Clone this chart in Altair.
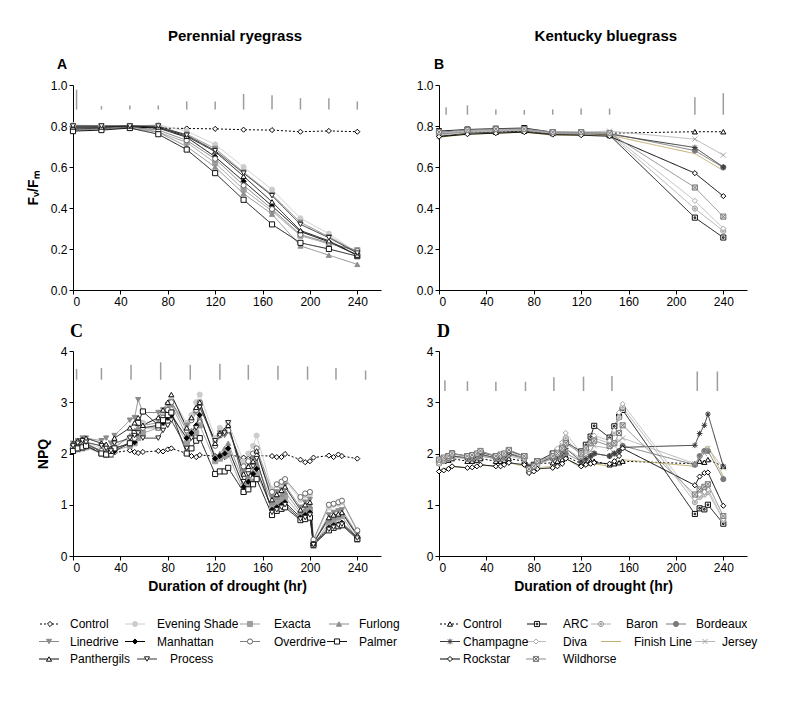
import altair as alt
import pandas as pd

FONT = "Liberation Sans"

# ---------------- time axes (hours of drought) ----------------
hours_rye_fvfm = [0, 24, 48, 72, 96, 120, 144, 168, 192, 216, 240]
hours_kb_fvfm = [0, 24, 48, 72, 96, 120, 144, 216, 240]
hours_rye_npq = [0, 4, 8, 11, 24, 28, 32, 35, 48, 52, 55, 59, 72, 76, 80, 83,
                 96, 100, 104, 107, 120, 124, 128, 131, 144, 148, 152, 155,
                 168, 172, 176, 179, 192, 196, 200, 203, 216, 220, 224, 227, 240]
hours_kb_npq = [0, 4, 8, 11, 24, 28, 32, 35, 48, 52, 55, 59, 72, 76, 80, 83,
                96, 100, 104, 107, 120, 124, 128, 131, 144, 148, 152, 155,
                216, 220, 224, 227, 240]

rye_names = ["Control", "Evening Shade", "Exacta", "Furlong", "Linedrive",
             "Manhattan", "Overdrive", "Palmer", "Panthergils", "Process"]
kb_names = ["Control", "ARC", "Baron", "Bordeaux", "Champagne", "Diva",
            "Finish Line", "Jersey", "Rockstar", "Wildhorse"]

# ---------------- A: perennial ryegrass Fv/Fm ----------------
A_control = [0.79, 0.79, 0.795, 0.79, 0.788, 0.786, 0.782, 0.78, 0.772, 0.776, 0.772]
A_evening_shade = [0.805, 0.80, 0.80, 0.805, 0.775, 0.71, 0.60, 0.49, 0.35, 0.275, 0.18]
A_exacta = [0.79, 0.795, 0.80, 0.77, 0.72, 0.62, 0.49, 0.385, 0.265, 0.225, 0.195]
A_furlong = [0.78, 0.785, 0.79, 0.77, 0.70, 0.60, 0.47, 0.37, 0.215, 0.17, 0.125]
A_linedrive = [0.80, 0.80, 0.80, 0.79, 0.76, 0.69, 0.575, 0.465, 0.33, 0.26, 0.185]
A_manhattan = [0.785, 0.79, 0.795, 0.79, 0.745, 0.65, 0.53, 0.41, 0.285, 0.235, 0.17]
A_overdrive = [0.79, 0.79, 0.795, 0.78, 0.73, 0.64, 0.51, 0.395, 0.27, 0.23, 0.19]
A_palmer = [0.775, 0.78, 0.79, 0.76, 0.685, 0.57, 0.44, 0.32, 0.23, 0.20, 0.165]
A_panthergils = [0.795, 0.795, 0.80, 0.795, 0.75, 0.675, 0.555, 0.43, 0.29, 0.24, 0.17]
A_process = [0.80, 0.80, 0.80, 0.80, 0.755, 0.68, 0.57, 0.46, 0.32, 0.255, 0.18]
A_lsd_t = [3, 24, 48, 72, 96, 120, 144, 168, 192, 216, 240]
A_lsd_len = [0.097, 0.017, 0.02, 0.02, 0.04, 0.04, 0.076, 0.07, 0.056, 0.055, 0.04]
A_lsd_base = 0.88

# ---------------- B: Kentucky bluegrass Fv/Fm ----------------
B_control = [0.765, 0.77, 0.77, 0.775, 0.765, 0.765, 0.765, 0.772, 0.772]
B_arc = [0.775, 0.783, 0.787, 0.79, 0.77, 0.768, 0.755, 0.353, 0.256]
B_baron = [0.76, 0.775, 0.78, 0.78, 0.765, 0.765, 0.76, 0.397, 0.288]
B_bordeaux = [0.76, 0.77, 0.775, 0.78, 0.765, 0.765, 0.765, 0.68, 0.598]
B_champagne = [0.75, 0.765, 0.77, 0.775, 0.76, 0.76, 0.76, 0.695, 0.60]
B_diva = [0.755, 0.77, 0.775, 0.78, 0.765, 0.765, 0.765, 0.435, 0.30]
B_finish_line = [0.745, 0.76, 0.765, 0.77, 0.755, 0.755, 0.755, 0.665, 0.583]
B_jersey = [0.765, 0.775, 0.78, 0.78, 0.77, 0.77, 0.775, 0.736, 0.658]
B_rockstar = [0.748, 0.76, 0.765, 0.77, 0.758, 0.755, 0.75, 0.57, 0.458]
B_wildhorse = [0.77, 0.78, 0.785, 0.785, 0.77, 0.77, 0.765, 0.50, 0.358]
B_lsd_t = [6, 24, 48, 72, 96, 120, 144, 216, 240]
B_lsd_len = [0.037, 0.046, 0.025, 0.023, 0.026, 0.03, 0.03, 0.085, 0.105]
B_lsd_base = 0.855

# ---------------- C: perennial ryegrass NPQ ----------------
C_control = [2.10, 2.08, 2.10, 2.12, 2.05, 2.02, 1.98, 2.02, 2.06, 2.03, 2.01, 2.03,
             2.05, 2.04, 2.08, 2.10, 2.00, 1.95, 1.93, 1.97, 1.95, 1.92, 1.93, 1.98,
             1.92, 1.90, 1.92, 1.96, 1.95, 1.93, 1.93, 1.99, 1.88, 1.83, 1.85, 1.92,
             1.96, 1.93, 1.98, 1.95, 1.90]
C_evening_shade = [2.15, 2.18, 2.20, 2.22, 2.10, 2.05, 2.00, 2.15, 2.30, 2.40, 2.55, 2.60,
                   2.65, 2.80, 2.95, 3.10, 2.60, 2.75, 3.00, 3.15, 2.30, 2.50, 2.45, 2.60,
                   1.85, 2.00, 2.15, 2.35, 1.30, 1.38, 1.42, 1.48, 1.10, 1.18, 1.20, 0.30,
                   0.95, 1.00, 1.02, 1.05, 0.48]
C_exacta = [2.05, 2.08, 2.10, 2.12, 2.00, 1.97, 1.98, 2.05, 2.15, 2.20, 2.30, 2.40,
            2.50, 2.60, 2.70, 2.80, 2.20, 2.35, 2.40, 2.55, 1.85, 1.90, 1.95, 2.00,
            1.25, 1.35, 1.45, 1.60, 0.95, 1.05, 1.10, 1.15, 0.80, 0.85, 0.90, 0.20,
            0.65, 0.70, 0.75, 0.78, 0.32]
C_furlong = [2.05, 2.10, 2.12, 2.15, 2.05, 2.00, 1.97, 2.10, 2.35, 2.45, 2.50, 2.55,
             2.60, 2.70, 2.80, 2.95, 2.35, 2.45, 2.55, 2.70, 1.95, 2.00, 2.10, 2.20,
             1.45, 1.55, 1.65, 1.80, 1.05, 1.15, 1.20, 1.25, 0.85, 0.92, 0.98, 0.28,
             0.70, 0.75, 0.80, 0.85, 0.38]
C_linedrive = [2.20, 2.25, 2.30, 2.30, 2.25, 2.30, 2.20, 2.35, 2.65, 2.70, 3.05, 2.80,
               2.80, 2.85, 2.95, 3.00, 2.55, 2.65, 2.80, 2.95, 2.20, 2.40, 2.35, 2.50,
               1.65, 1.80, 1.90, 2.05, 1.15, 1.25, 1.30, 1.38, 0.95, 1.05, 1.10, 0.25,
               0.80, 0.85, 0.88, 0.90, 0.42]
C_manhattan = [2.10, 2.15, 2.12, 2.18, 2.05, 2.00, 1.98, 2.05, 2.20, 2.22, 2.40, 2.50,
               2.55, 2.60, 2.70, 2.75, 2.30, 2.40, 2.55, 2.75, 1.90, 1.95, 2.00, 2.10,
               1.35, 1.45, 1.60, 1.70, 0.90, 0.95, 1.00, 1.05, 0.75, 0.80, 0.85, 0.25,
               0.55, 0.60, 0.62, 0.65, 0.36]
C_overdrive = [2.10, 2.12, 2.15, 2.20, 2.05, 2.00, 1.98, 2.10, 2.20, 2.30, 2.40, 2.50,
               2.50, 2.70, 2.85, 3.00, 2.45, 2.65, 2.85, 3.00, 2.15, 2.35, 2.40, 2.45,
               1.75, 1.85, 2.00, 2.10, 1.25, 1.40, 1.45, 1.50, 1.15, 1.22, 1.25, 0.32,
               1.00, 1.02, 1.05, 1.08, 0.50]
C_palmer = [2.05, 2.10, 2.12, 2.15, 2.00, 1.98, 2.05, 2.10, 2.20, 2.40, 2.60, 2.82,
            2.55, 2.65, 2.75, 2.80, 2.00, 2.10, 2.25, 2.30, 1.60, 1.65, 1.65, 1.72,
            1.25, 1.30, 1.40, 1.50, 0.80, 0.88, 0.92, 0.95, 0.70, 0.72, 0.75, 0.22,
            0.50, 0.55, 0.58, 0.60, 0.33]
C_panthergils = [2.20, 2.25, 2.28, 2.30, 2.20, 2.18, 2.10, 2.30, 2.50, 2.60, 2.70, 2.55,
                 2.70, 2.85, 3.00, 3.15, 2.50, 2.70, 2.90, 3.00, 2.20, 2.40, 2.45, 2.55,
                 1.60, 1.75, 1.85, 2.05, 1.10, 1.20, 1.28, 1.35, 0.90, 1.00, 1.05, 0.25,
                 0.75, 0.80, 0.82, 0.85, 0.40]
C_process = [2.15, 2.20, 2.25, 2.22, 2.15, 2.10, 2.05, 2.20, 2.30, 2.35, 2.40, 2.30,
             2.30, 2.45, 2.55, 2.65, 2.10, 2.30, 2.50, 2.90, 2.25, 2.35, 2.40, 2.60,
             1.45, 1.60, 1.75, 1.90, 0.85, 0.90, 0.95, 1.00, 0.72, 0.75, 0.80, 0.22,
             0.52, 0.56, 0.60, 0.62, 0.35]
C_lsd_t = [3, 24, 49, 74, 99, 124, 148, 173, 198, 222, 247]
C_lsd_len = [0.21, 0.23, 0.29, 0.34, 0.29, 0.31, 0.29, 0.27, 0.26, 0.23, 0.18]
C_lsd_base = 3.44

# ---------------- D: Kentucky bluegrass NPQ ----------------
D_control = [1.82, 1.85, 1.87, 1.90, 1.85, 1.85, 1.87, 1.90, 1.85, 1.85, 1.87, 1.90,
             1.85, 1.72, 1.75, 1.80, 1.82, 1.85, 1.88, 1.95, 1.80, 1.82, 1.85, 1.85,
             1.78, 1.80, 1.82, 1.85, 1.80, 1.85, 1.83, 1.88, 1.75]
D_arc = [1.85, 1.90, 1.95, 2.00, 1.95, 1.95, 1.97, 2.02, 1.95, 1.93, 1.97, 2.05,
         1.95, 1.72, 1.78, 1.85, 2.00, 2.03, 2.10, 2.22, 2.04, 2.17, 2.33, 2.54,
         2.31, 2.53, 2.72, 2.85, 0.82, 0.93, 0.91, 1.00, 0.63]
D_baron = [1.80, 1.85, 1.90, 1.95, 1.90, 1.92, 1.95, 2.00, 1.90, 1.92, 1.95, 2.00,
           1.90, 1.65, 1.70, 1.80, 1.95, 2.05, 2.15, 2.30, 1.95, 2.05, 2.20, 2.30,
           2.20, 2.40, 2.70, 2.90, 1.05, 1.15, 1.20, 1.25, 0.70]
D_bordeaux = [1.85, 1.88, 1.90, 1.95, 1.90, 1.90, 1.92, 1.95, 1.90, 1.90, 1.92, 1.98,
              1.90, 1.70, 1.75, 1.80, 1.90, 1.92, 1.95, 2.00, 1.85, 1.90, 1.95, 2.00,
              1.95, 2.00, 2.05, 2.15, 1.78, 1.95, 2.05, 2.05, 1.50]
D_champagne = [1.88, 1.90, 1.92, 1.95, 1.92, 1.92, 1.95, 1.98, 1.92, 1.92, 1.95, 2.00,
               1.92, 1.75, 1.78, 1.82, 1.92, 1.95, 2.00, 2.10, 1.85, 1.90, 1.95, 2.00,
               1.95, 2.00, 2.05, 2.12, 2.16, 2.39, 2.55, 2.77, 1.75]
D_diva = [1.82, 1.88, 1.92, 1.98, 1.95, 1.95, 2.00, 2.05, 1.95, 1.95, 2.00, 2.05,
          1.90, 1.62, 1.68, 1.78, 2.00, 2.10, 2.22, 2.40, 2.00, 2.05, 2.20, 2.35,
          2.25, 2.45, 2.80, 2.97, 1.12, 1.20, 1.25, 1.30, 0.72]
D_finish_line = [1.68, 1.70, 1.72, 1.75, 1.72, 1.72, 1.75, 1.78, 1.75, 1.75, 1.78, 1.82,
                 1.75, 1.65, 1.68, 1.72, 1.75, 1.80, 1.85, 1.90, 1.72, 1.75, 1.78, 1.80,
                 1.75, 1.80, 1.85, 1.88, 1.75, 1.95, 2.10, 2.15, 1.55]
D_jersey = [1.85, 1.88, 1.90, 1.92, 1.90, 1.90, 1.92, 1.95, 1.90, 1.90, 1.92, 1.95,
            1.88, 1.68, 1.72, 1.78, 1.90, 1.95, 2.00, 2.10, 1.90, 1.95, 2.05, 2.15,
            2.10, 2.15, 2.25, 2.30, 1.80, 1.90, 2.00, 2.10, 1.72]
D_rockstar = [1.65, 1.67, 1.70, 1.75, 1.72, 1.73, 1.75, 1.78, 1.75, 1.75, 1.78, 1.82,
              1.78, 1.62, 1.65, 1.70, 1.72, 1.75, 1.80, 1.90, 1.75, 1.78, 1.80, 1.82,
              1.80, 1.85, 1.95, 2.10, 1.38, 1.55, 1.62, 1.63, 0.98]
D_wildhorse = [1.88, 1.92, 1.95, 2.00, 1.95, 1.97, 2.00, 2.05, 1.95, 1.98, 2.00, 2.07,
               1.95, 1.70, 1.75, 1.85, 1.95, 2.00, 2.10, 2.20, 2.00, 2.10, 2.20, 2.25,
               2.15, 2.20, 2.40, 2.55, 1.20, 1.30, 1.35, 1.40, 0.78]
D_lsd_t = [5, 24, 48, 73, 97, 122, 146, 218, 235]
D_lsd_len = [0.21, 0.19, 0.18, 0.18, 0.27, 0.28, 0.29, 0.38, 0.38]
D_lsd_base = 3.22

# ---------------- styles ----------------
SQ_DOT = "M-1,-1H1V1H-1Z M-0.3,-0.3H0.3V0.3H-0.3Z"
CIRC_DOT = "M-1,0A1,1 0 1,0 1,0A1,1 0 1,0 -1,0Z M-0.3,0A0.3,0.3 0 1,0 0.3,0A0.3,0.3 0 1,0 -0.3,0Z"
STAR = "M0,-1.1V1.1 M-1.1,0H1.1 M-0.8,-0.8L0.8,0.8 M0.8,-0.8L-0.8,0.8"
XMARK = "M-1,-1L1,1 M1,-1L-1,1"
SQ_X = "M-1,-1H1V1H-1Z M-1,-1L1,1 M1,-1L-1,1"

rye_style = {  # line colour, dash, shape, fill, stroke
    "Control": ("#000000", [2, 2], "diamond", "#ffffff", "#000000"),
    "Evening Shade": ("#cccccc", [1, 0], "circle", "#cccccc", "#cccccc"),
    "Exacta": ("#9e9e9e", [1, 0], "square", "#9e9e9e", "#9e9e9e"),
    "Furlong": ("#8e8e8e", [1, 0], "triangle-up", "#8e8e8e", "#8e8e8e"),
    "Linedrive": ("#8a8a8a", [1, 0], "triangle-down", "#8a8a8a", "#8a8a8a"),
    "Manhattan": ("#000000", [1, 0], "diamond", "#000000", "#000000"),
    "Overdrive": ("#808080", [1, 0], "circle", "#ffffff", "#666666"),
    "Palmer": ("#111111", [1, 0], "square", "#ffffff", "#111111"),
    "Panthergils": ("#111111", [1, 0], "triangle-up", "#ffffff", "#111111"),
    "Process": ("#333333", [1, 0], "triangle-down", "#ffffff", "#222222"),
}
kb_style = {
    "Control": ("#000000", [2, 2], "triangle-up", "#ffffff", "#000000"),
    "ARC": ("#111111", [1, 0], SQ_DOT, "#ffffff", "#111111"),
    "Baron": ("#b0b0b0", [1, 0], CIRC_DOT, "#dddddd", "#9a9a9a"),
    "Bordeaux": ("#7a7a7a", [1, 0], "circle", "#7a7a7a", "#7a7a7a"),
    "Champagne": ("#3a3a3a", [1, 0], STAR, "#3a3a3a", "#3a3a3a"),
    "Diva": ("#bdbdbd", [1, 0], "diamond", "#ffffff", "#a8a8a8"),
    "Finish Line": ("#c2b070", [1, 0], "circle", "#c2b070", "#c2b070"),
    "Jersey": ("#b5b5b5", [1, 0], XMARK, "#ffffff", "#a5a5a5"),
    "Rockstar": ("#000000", [1, 0], "diamond", "#ffffff", "#000000"),
    "Wildhorse": ("#8c8c8c", [1, 0], SQ_X, "#e2e2e2", "#7c7c7c"),
}
no_marker = {"Finish Line"}

# legend item layout (symbol centre, text start), pixels from the panel's left edge
rye_legend_pos = [(-23, -3), (62, 84), (177, 201), (266, 286),
                  (-24, -3), (62, 84), (177, 201), (264, 286),
                  (-24, -3), (74, 97)]
kb_legend_pos = [(11, 24), (98, 124), (162, 187), (237, 257),
                 (11, 24), (97, 124), (172, 195), (266, 283),
                 (11, 24), (97, 124)]


def long_df(names, hours, series_lists):
    rows = []
    for n, vals in zip(names, series_lists):
        for t, v in zip(hours, vals):
            rows.append({"series": n, "t": t, "v": v})
    return pd.DataFrame(rows)


def lsd_df(ts, lens, base):
    return pd.DataFrame({"t": ts, "lo": [base] * len(ts), "hi": [base + l for l in lens]})


def enc_scales(names, sty):
    pn = [n for n in names if n not in no_marker]
    return dict(
        color=alt.Color("series:N", scale=alt.Scale(domain=names, range=[sty[n][0] for n in names]), legend=None),
        strokeDash=alt.StrokeDash("series:N", scale=alt.Scale(domain=names, range=[sty[n][1] for n in names]), legend=None),
        shape=alt.Shape("series:N", scale=alt.Scale(domain=pn, range=[sty[n][2] for n in pn]), legend=None),
        fill=alt.Fill("series:N", scale=alt.Scale(domain=pn, range=[sty[n][3] for n in pn]), legend=None),
        stroke=alt.Stroke("series:N", scale=alt.Scale(domain=pn, range=[sty[n][4] for n in pn]), legend=None),
    )


W, H = 308, 205


def panel(df, lsd, names, sty, ymax, yvals, yfmt, ytitle, xtitle, letter, lfont, lsize, ldx, loff):
    sc = enc_scales(names, sty)
    xax = alt.Axis(values=[0, 40, 80, 120, 160, 200, 240], title=xtitle, titlePadding=6)
    yax = alt.Axis(values=yvals, format=yfmt, title=ytitle, titlePadding=10)
    x = alt.X("t:Q", scale=alt.Scale(domain=[0, 260], nice=False), axis=xax)
    y = alt.Y("v:Q", scale=alt.Scale(domain=[0, ymax], nice=False), axis=yax)
    bars = alt.Chart(lsd).mark_rule(color="#9d9d9d", strokeWidth=1.5).encode(
        x=alt.X("t:Q", scale=alt.Scale(domain=[0, 260], nice=False)),
        y=alt.Y("lo:Q", scale=alt.Scale(domain=[0, ymax], nice=False)), y2="hi:Q")
    lines = alt.Chart(df).mark_line(strokeWidth=1).encode(
        x=x, y=y, color=sc["color"], strokeDash=sc["strokeDash"], order="t:Q")
    pts = alt.Chart(df[~df["series"].isin(no_marker)]).mark_point(
        size=26, opacity=1, strokeWidth=1, filled=False).encode(
        x=x, y=y, shape=sc["shape"], fill=sc["fill"], stroke=sc["stroke"])
    return alt.layer(bars, lines, pts).properties(
        width=W, height=H,
        title=alt.Title(letter, anchor="start", frame="group", dx=ldx, offset=loff,
                        font=lfont, fontSize=lsize, fontWeight="bold", color="black"))


def legend(names, sty, pos):
    rows = []
    for i, n in enumerate(names):
        cx, tx = pos[i]
        rows.append({"series": n, "sx": cx, "sx1": cx - 10, "sx2": cx + 10,
                     "tx": tx, "ry": 7 + (i // 4) * 17.5})
    d = pd.DataFrame(rows)
    sc = enc_scales(names, sty)
    xs = alt.Scale(domain=[0, W], nice=False, zero=False)
    ys = alt.Scale(domain=[0, 44], nice=False, reverse=True)
    seg = alt.Chart(d).mark_rule(strokeWidth=1).encode(
        x=alt.X("sx1:Q", scale=xs, axis=None), x2="sx2:Q",
        y=alt.Y("ry:Q", scale=ys, axis=None), color=sc["color"], strokeDash=sc["strokeDash"])
    pts = alt.Chart(d[~d["series"].isin(no_marker)]).mark_point(
        size=26, opacity=1, strokeWidth=1, filled=False).encode(
        x=alt.X("sx:Q", scale=xs, axis=None), y=alt.Y("ry:Q", scale=ys, axis=None),
        shape=sc["shape"], fill=sc["fill"], stroke=sc["stroke"])
    txt = alt.Chart(d).mark_text(align="left", baseline="middle", font=FONT, fontSize=12,
                                 color="black").encode(
        x=alt.X("tx:Q", scale=xs, axis=None), y=alt.Y("ry:Q", scale=ys, axis=None), text="series:N")
    return alt.layer(seg, pts, txt).properties(width=W, height=44)


IND = dict(x="independent", y="independent", color="independent", shape="independent",
           fill="independent", stroke="independent", strokeDash="independent")

dfA = long_df(rye_names, hours_rye_fvfm, [A_control, A_evening_shade, A_exacta, A_furlong, A_linedrive,
                                         A_manhattan, A_overdrive, A_palmer, A_panthergils, A_process])
dfB = long_df(kb_names, hours_kb_fvfm, [B_control, B_arc, B_baron, B_bordeaux, B_champagne, B_diva,
                                       B_finish_line, B_jersey, B_rockstar, B_wildhorse])
dfC = long_df(rye_names, hours_rye_npq, [C_control, C_evening_shade, C_exacta, C_furlong, C_linedrive,
                                        C_manhattan, C_overdrive, C_palmer, C_panthergils, C_process])
dfD = long_df(kb_names, hours_kb_npq, [D_control, D_arc, D_baron, D_bordeaux, D_champagne, D_diva,
                                      D_finish_line, D_jersey, D_rockstar, D_wildhorse])

fv_vals = [0.0, 0.2, 0.4, 0.6, 0.8, 1.0]
npq_vals = [0, 1, 2, 3, 4]
XT = "Duration of drought (hr)"

pA = panel(dfA, lsd_df(A_lsd_t, A_lsd_len, A_lsd_base), rye_names, rye_style, 1.0, fv_vals, ".1f",
           "Fᵥ/Fₘ", None, "A", FONT, 14, -16, 7)
pB = panel(dfB, lsd_df(B_lsd_t, B_lsd_len, B_lsd_base), kb_names, kb_style, 1.0, fv_vals, ".1f",
           None, None, "B", FONT, 14, -5, 7)
pC = panel(dfC, lsd_df(C_lsd_t, C_lsd_len, C_lsd_base), rye_names, rye_style, 4, npq_vals, "d",
           "NPQ", XT, "C", "Liberation Serif", 18, -3, 4)
pD = panel(dfD, lsd_df(D_lsd_t, D_lsd_len, D_lsd_base), kb_names, kb_style, 4, npq_vals, "d",
           None, XT, "D", "Liberation Serif", 18, -2, 4)

legL = legend(rye_names, rye_style, rye_legend_pos)
legR = legend(kb_names, kb_style, kb_legend_pos)

head = dict(anchor="middle", font=FONT, fontSize=15, fontWeight="bold", color="black", offset=14)
left = alt.vconcat(alt.vconcat(pA, pC, spacing=16).resolve_scale(**IND), legL, spacing=24,
                   title=alt.Title("Perennial ryegrass", dx=22, **head)).resolve_scale(**IND)
right = alt.vconcat(alt.vconcat(pB, pD, spacing=16).resolve_scale(**IND), legR, spacing=24,
                    title=alt.Title("Kentucky bluegrass", dx=19, **head)).resolve_scale(**IND)

chart = alt.hconcat(left, right, spacing=16).resolve_scale(**IND).properties(
    padding={"left": 18, "top": 21, "right": 5, "bottom": 5}, background="white"
).configure_view(stroke=None).configure_axis(
    domainColor="black", tickColor="black", labelColor="black", labelFont=FONT, labelFontSize=12,
    titleFont=FONT, titleFontSize=14, titleFontWeight="bold", titleColor="black",
    grid=False, tickSize=4, domainWidth=1, tickWidth=1)

chart.save("out.html", embed_options={"renderer": "svg", "actions": False})
